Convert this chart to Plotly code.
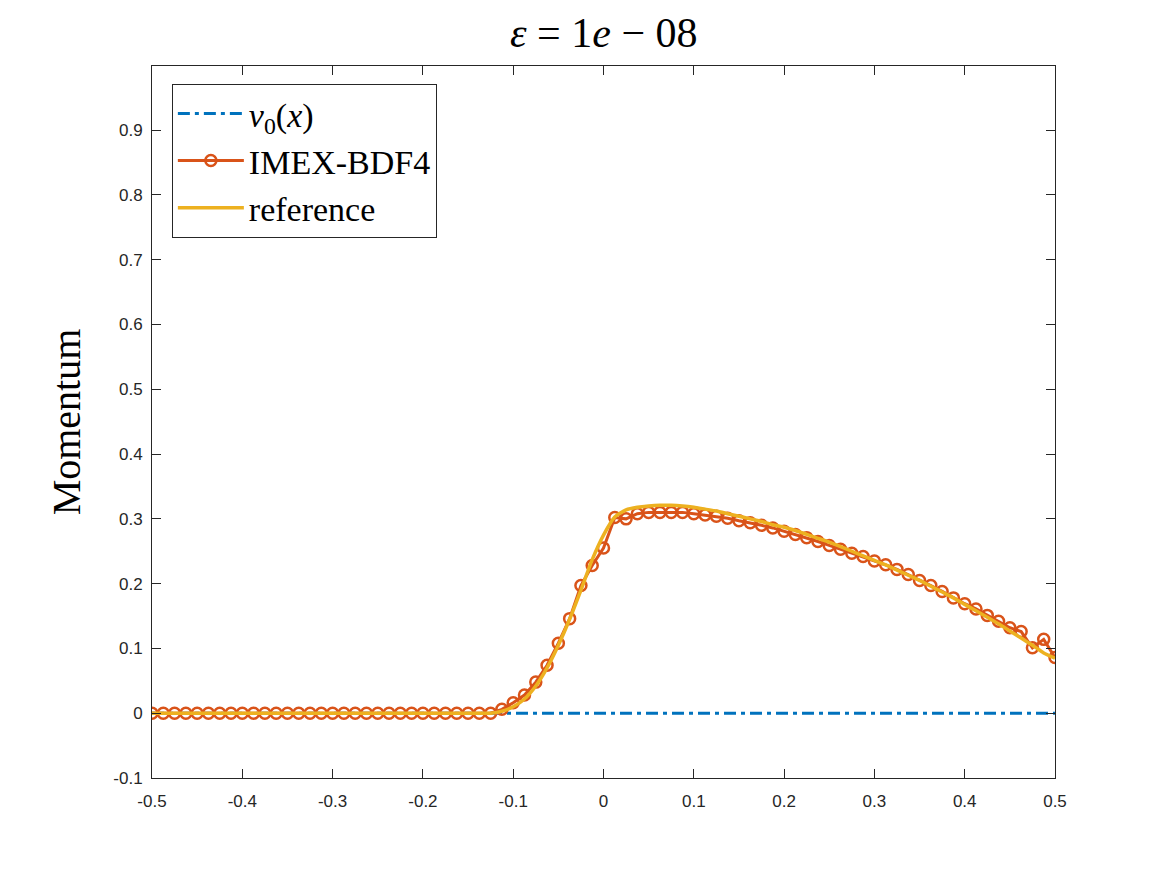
import plotly.graph_objects as go

# grid: x = -0.5 : 0.0125 : 0.5  (81 points)
x_grid = [round(-0.5 + 0.0125 * k, 4) for k in range(81)]

v0_values = [0.0] * 81

imex_values = [0.0] * 31 + [
    0.006, 0.016, 0.028, 0.048, 0.074, 0.108, 0.146, 0.197, 0.228,
    0.255,
    0.302, 0.300, 0.308, 0.310, 0.310, 0.310, 0.310, 0.308, 0.306, 0.304,
    0.301, 0.297, 0.294, 0.290, 0.286, 0.281, 0.276, 0.271, 0.265, 0.259,
    0.253, 0.247, 0.242, 0.235, 0.229, 0.222, 0.214, 0.205, 0.197, 0.188,
    0.178, 0.169, 0.161, 0.151, 0.142, 0.132, 0.126, 0.101, 0.114, 0.086,
]

reference_values = [0.0] * 31 + [
    0.003, 0.010, 0.022, 0.042, 0.070, 0.105, 0.145, 0.190, 0.237,
    0.275,
    0.303, 0.314, 0.318, 0.320, 0.321, 0.321, 0.320, 0.318, 0.315, 0.312,
    0.308, 0.304, 0.300, 0.296, 0.291, 0.287, 0.282, 0.276, 0.270, 0.264,
    0.257, 0.250, 0.243, 0.236, 0.229, 0.221, 0.213, 0.205, 0.196, 0.187,
    0.178, 0.168, 0.158, 0.148, 0.138, 0.127, 0.116, 0.105, 0.093, 0.085,
]

x_ticks = [-0.5, -0.4, -0.3, -0.2, -0.1, 0, 0.1, 0.2, 0.3, 0.4, 0.5]
x_tick_text = ["-0.5", "-0.4", "-0.3", "-0.2", "-0.1", "0", "0.1", "0.2", "0.3", "0.4", "0.5"]
y_ticks = [-0.1, 0, 0.1, 0.2, 0.3, 0.4, 0.5, 0.6, 0.7, 0.8, 0.9]
y_tick_text = ["-0.1", "0", "0.1", "0.2", "0.3", "0.4", "0.5", "0.6", "0.7", "0.8", "0.9"]
title_text = "<i>ε</i> = 1<i>e</i> − 08"

BLUE = "#0072BD"
ORANGE = "#D95319"
YELLOW = "#EDB120"
AX = "#262626"
SERIF = "Liberation Serif"

fig = go.Figure()
fig.add_trace(go.Scatter(
    x=x_grid, y=v0_values, mode="lines", name="<i>v</i><sub>0</sub>(<i>x</i>)",
    line=dict(color=BLUE, width=3, dash="12px,5px,4px,5px"),
))
fig.add_trace(go.Scatter(
    x=x_grid, y=imex_values, mode="lines+markers", name="IMEX-BDF4",
    line=dict(color=ORANGE, width=3),
    marker=dict(symbol="circle-open", size=11, color=ORANGE, line=dict(width=2.5, color=ORANGE)),
))
fig.add_trace(go.Scatter(
    x=x_grid, y=reference_values, mode="lines", name="reference",
    line=dict(color=YELLOW, width=3.5, shape="spline", smoothing=0.6),
))

axis_common = dict(
    showline=True, linecolor=AX, linewidth=1, mirror="ticks",
    ticks="inside", ticklen=9, tickwidth=1, tickcolor=AX,
    showgrid=False, zeroline=False,
    tickfont=dict(family="Liberation Sans", size=17, color=AX),
)

fig.update_layout(
    template="none",
    width=1167, height=875,
    margin=dict(l=152, r=112, t=66, b=97),
    font=dict(family=SERIF, color="black"),
    paper_bgcolor="white", plot_bgcolor="white",
    xaxis=dict(range=[-0.5, 0.5], tickvals=x_ticks, ticktext=x_tick_text,
               ticklabelstandoff=8, **axis_common),
    yaxis=dict(
        range=[-0.1, 0.999], tickvals=y_ticks, ticktext=y_tick_text,
        ticklabelstandoff=5,
        title=dict(text="Momentum", font=dict(family=SERIF, size=40, color="black"), standoff=20),
        **axis_common,
    ),
    legend=dict(
        x=0.022, y=0.975, xanchor="left", yanchor="top",
        bgcolor="white", bordercolor=AX, borderwidth=1,
        font=dict(family=SERIF, size=34, color="black"),
        itemwidth=66, tracegroupgap=0,
    ),
    showlegend=True,
)
fig.add_annotation(
    text=title_text, xref="paper", yref="paper", x=0.5, y=1.0, yshift=8,
    xanchor="center", yanchor="bottom", showarrow=False,
    font=dict(family=SERIF, size=42, color="black"),
)

fig.write_html("out.html")
